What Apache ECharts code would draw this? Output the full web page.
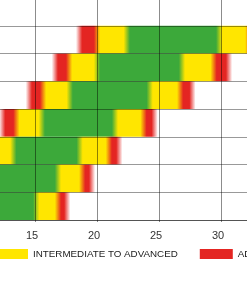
<!DOCTYPE html>
<html>
<head>
<meta charset="utf-8">
<script src="https://cdn.jsdelivr.net/npm/echarts@6/dist/echarts.min.js"></script>
<style>
  html, body { margin: 0; padding: 0; background: #ffffff; }
  #chart { width: 247px; height: 296px; }
</style>
</head>
<body>
<div id="chart"></div>
<script>
// ---- data ----
const rows = ['0', '1', '2', '3', '4', '5', '6', '7'];
// boundaries of each row's band (x values), null = empty row
const redStart    = [null, 18.3, 16.35, 14.25, 12.1, 9.6, 7.5, 5.5];
const yellowStart = [null, 20.0, 17.75, 15.65, 13.5, 11.0, 8.9, 6.9];
const greenStart  = [null, 22.4, 20.0, 17.8, 15.55, 13.25, 11.0, 9.0];
const greenEnd    = [null, 29.85, 26.85, 24.25, 21.45, 18.6, 16.85, 15.1];
const yellowEnd   = [null, 32.2, 29.4, 26.7, 23.75, 20.95, 18.8, 16.85];
const redEnd      = [null, 33.5, 30.9, 27.95, 24.9, 22.05, 19.85, 17.85];
const xTicks = [10, 15, 20, 25, 30, 35];
const legendNames = ['INTERMEDIATE TO ADVANCED', 'ADVANCED'];

const RED = '#e42522', YELLOW = '#ffe600', GREEN = '#3ca93a';
const RED0 = 'rgba(228,37,34,0)';

const data = [];
rows.forEach((r, i) => {
  if (redStart[i] == null) return;
  data.push([i, redStart[i], yellowStart[i], greenStart[i], greenEnd[i], yellowEnd[i], redEnd[i]]);
});

function renderItem(params, api) {
  const idx = api.value(0);
  const v = [1, 2, 3, 4, 5, 6].map(k => api.value(k));
  const p0 = api.coord([v[0], idx]);
  const p1 = api.coord([v[5], idx]);
  const h = api.size([0, 1])[1];
  const L = v[5] - v[0];
  const off = x => Math.min(1, Math.max(0, (x - v[0]) / L));
  const t = 0.25, f = 0.5;
  const stops = [
    [0, RED0], [off(v[0] + f), RED],
    [off(v[1] - t), RED], [off(v[1] + t), YELLOW],
    [off(v[2] - t), YELLOW], [off(v[2] + t), GREEN],
    [off(v[3] - t), GREEN], [off(v[3] + t), YELLOW],
    [off(v[4] - t), YELLOW], [off(v[4] + t), RED],
    [off(v[5] - f), RED], [1, RED0]
  ].map(s => ({ offset: s[0], color: s[1] }));
  return {
    type: 'rect',
    shape: { x: p0[0], y: p0[1] - h / 2, width: p1[0] - p0[0], height: h },
    style: {
      fill: { type: 'linear', x: 0, y: 0, x2: 1, y2: 0, colorStops: stops }
    }
  };
}

const chart = echarts.init(document.getElementById('chart'), null, { renderer: 'canvas' });
chart.setOption({
  animation: false,
  backgroundColor: '#ffffff',
  grid: { left: -27, right: -36, top: -2, bottom: 76, containLabel: false, outerBoundsMode: 'none' },
  legend: {
    data: legendNames,
    left: -5, top: 249, width: 600, padding: 0,
    icon: 'rect', itemWidth: 33, itemHeight: 10, itemGap: 22,
    textStyle: { fontSize: 9.8, color: '#1a1a1a', fontFamily: '"Liberation Sans", Arial, sans-serif' }
  },
  xAxis: {
    type: 'value', min: xTicks[0], max: xTicks[xTicks.length - 1], interval: 5, z: 10,
    axisLine: { show: true, lineStyle: { color: 'rgba(0,0,0,0.45)', width: 1 } },
    axisTick: { show: true, length: 2, lineStyle: { color: 'rgba(0,0,0,0.45)' } },
    axisLabel: { fontSize: 11, color: '#333', margin: 10, padding: [0, 6, 0, 0],
      fontFamily: '"Liberation Sans", Arial, sans-serif' },
    splitLine: { show: true, lineStyle: { color: 'rgba(0,0,0,0.45)', width: 1 } }
  },
  yAxis: {
    type: 'category', data: rows, inverse: true, z: 10,
    axisLine: { show: false }, axisTick: { show: false }, axisLabel: { show: false },
    splitLine: { show: true, lineStyle: { color: 'rgba(0,0,0,0.4)', width: 1 } }
  },
  series: [
    { type: 'custom', name: 'levels', renderItem: renderItem, data: data, z: 2,
      encode: { x: [1, 2, 3, 4, 5, 6], y: 0 } },
    { type: 'custom', name: legendNames[0], color: YELLOW, data: [], renderItem: () => null },
    { type: 'custom', name: legendNames[1], color: RED, data: [], renderItem: () => null }
  ]
});
</script>
</body>
</html>
